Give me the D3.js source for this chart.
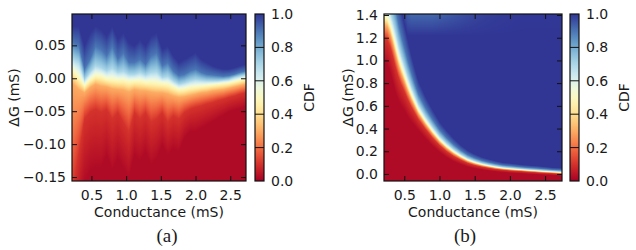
<!DOCTYPE html>
<meta charset="utf-8">
<html>
<head>
<script src="https://d3js.org/d3.v7.min.js"></script>
<style>
  body { margin: 0; background: #fff; }
  svg text { font-family: "DejaVu Sans", sans-serif; fill: #1a1a1a; }
  .tag { font-family: "Liberation Serif", "Times New Roman", serif; }
</style>
</head>
<body>
<div id="myKeeper"></div>
<script>

// CDF values that each contour array below belongs to
const cdfLevelsA = [0.02, 0.1, 0.3, 0.5, 0.7, 0.9, 1.0];
// (b) also has a faint lighter band along the top edge
const cdfLevelsB = [0.02, 0.1, 0.3, 0.5, 0.7, 0.9, 1.0, 1.0, 0.9];

// panel (a): conductance columns (mS), and dG (mS) where the CDF reaches each level
const condA = [0.24,0.32,0.40,0.48,0.56,0.64,0.72,0.80,0.88,0.96,1.04,1.12,1.20,1.28,1.36,1.44,
               1.52,1.60,1.68,1.76,1.84,1.92,2.00,2.08,2.16,2.24,2.32,2.40,2.48,2.56,2.64,2.72];
const aLevel02  = [-0.254,-0.204,-0.163,-0.143,-0.138,-0.138,-0.118,-0.143,-0.123,-0.138,-0.153,-0.118,-0.128,-0.113,-0.133,-0.123,
                   -0.103,-0.118,-0.108,-0.113,-0.092,-0.082,-0.082,-0.077,-0.072,-0.067,-0.062,-0.057,-0.052,-0.049,-0.047,-0.044];
const aLevel10  = [-0.163,-0.113,-0.062,-0.052,-0.047,-0.052,-0.047,-0.062,-0.052,-0.067,-0.082,-0.052,-0.062,-0.052,-0.067,-0.062,
                   -0.052,-0.067,-0.057,-0.062,-0.052,-0.047,-0.044,-0.042,-0.039,-0.037,-0.034,-0.032,-0.029,-0.027,-0.024,-0.022];
const aLevel30  = [-0.009,-0.017,-0.022,-0.014,-0.009,-0.012,-0.013,-0.016,-0.017,-0.018,-0.021,-0.017,-0.019,-0.019,-0.021,-0.022,
                   -0.022,-0.024,-0.027,-0.029,-0.028,-0.026,-0.024,-0.022,-0.021,-0.019,-0.018,-0.017,-0.015,-0.013,-0.011,-0.009];
const aLevel50  = [0.011,0.001,-0.011,-0.002,0.004,0.003,-0.001,-0.002,-0.003,-0.003,-0.005,-0.004,-0.004,-0.006,-0.006,-0.007,
                   -0.008,-0.009,-0.013,-0.017,-0.016,-0.014,-0.013,-0.012,-0.011,-0.010,-0.009,-0.008,-0.007,-0.005,-0.003,-0.001];
const aLevel70  = [0.029,0.024,-0.002,0.009,0.019,0.016,0.011,0.016,0.009,0.011,0.006,0.006,0.009,0.005,0.009,0.010,
                   0.001,0.003,-0.004,-0.009,-0.007,-0.004,-0.002,-0.003,-0.004,-0.004,-0.004,-0.003,-0.002,0.001,0.003,0.005];
const aLevel90  = [0.054,0.049,0.014,0.029,0.049,0.044,0.034,0.049,0.029,0.039,0.024,0.024,0.029,0.021,0.034,0.039,
                   0.019,0.024,0.011,0.004,0.006,0.011,0.014,0.009,0.006,0.005,0.004,0.003,0.004,0.006,0.009,0.011];
const aLevel100 = [0.079,0.079,0.049,0.069,0.079,0.074,0.064,0.079,0.059,0.069,0.054,0.049,0.059,0.049,0.064,0.069,
                   0.044,0.049,0.034,0.024,0.029,0.034,0.039,0.029,0.024,0.019,0.016,0.014,0.014,0.016,0.019,0.021];

// panel (b)
const condB = [0.22,0.26,0.30,0.34,0.38,0.42,0.46,0.50,0.55,0.60,0.65,0.70,0.80,0.90,1.00,
               1.10,1.20,1.30,1.40,1.50,1.60,1.70,1.80,1.90,2.00,2.20,2.40,2.60,2.74];
const bLevel02  = [0.97,0.95,0.89,0.80,0.70,0.635,0.59,0.555,0.50,0.455,0.42,0.38,0.31,0.245,0.19,
                   0.145,0.11,0.085,0.062,0.048,0.038,0.028,0.020,0.015,0.009,0.002,-0.006,-0.011,-0.016];
const bLevel10  = [1.198,1.178,1.118,1.028,0.928,0.844,0.78,0.726,0.652,0.588,0.534,0.479,0.394,0.317,0.251,
                   0.198,0.156,0.123,0.095,0.076,0.062,0.051,0.041,0.034,0.028,0.020,0.011,0.004,-0.001];
const bLevel30  = [1.318,1.298,1.238,1.148,1.048,0.954,0.88,0.816,0.732,0.658,0.594,0.531,0.438,0.355,0.283,
                   0.226,0.180,0.143,0.112,0.091,0.075,0.063,0.052,0.044,0.038,0.029,0.020,0.012,0.007];
const bLevel50  = [1.39,1.37,1.31,1.22,1.12,1.02,0.94,0.87,0.78,0.70,0.63,0.562,0.464,0.378,0.302,
                   0.243,0.194,0.155,0.122,0.100,0.083,0.070,0.059,0.050,0.044,0.034,0.025,0.017,0.012];
const bLevel70  = [1.51,1.49,1.43,1.34,1.24,1.13,1.04,0.96,0.86,0.77,0.69,0.614,0.508,0.416,0.334,
                   0.271,0.218,0.175,0.139,0.115,0.096,0.082,0.070,0.060,0.054,0.043,0.034,0.025,0.020];
const bLevel90  = [1.72,1.70,1.64,1.55,1.45,1.32,1.215,1.118,1.00,0.893,0.795,0.705,0.585,0.483,0.39,
                   0.32,0.26,0.21,0.169,0.141,0.119,0.103,0.089,0.078,0.072,0.059,0.050,0.039,0.034];
const bLevel100 = [1.99,1.97,1.91,1.82,1.72,1.57,1.44,1.32,1.18,1.05,0.93,0.822,0.684,0.568,0.462,
                   0.383,0.314,0.255,0.207,0.175,0.148,0.130,0.114,0.100,0.094,0.079,0.070,0.057,0.052];
const bFadeFrom = [2.00,1.98,1.92,1.83,1.73,1.58,1.45,1.33,1.22,1.22,1.22,1.22,1.22,1.22,1.22,
                   1.22,1.22,1.22,1.22,1.22,1.22,1.22,1.22,1.22,1.22,1.22,1.22,1.22,1.22];
const bFadeTo   = [2.30,2.30,2.20,2.10,2.00,1.85,1.72,1.60,1.50,1.45,1.45,1.45,1.45,1.45,1.48,
                   1.52,1.58,1.66,1.78,1.95,2.20,2.60,3.20,4.00,5.00,9.00,9.00,9.00,9.00];

// tick labels
const condTicks = [0.5, 1.0, 1.5, 2.0, 2.5];
const dgTicksA  = [0.05, 0.00, -0.05, -0.10, -0.15];
const dgTicksB  = [0.0, 0.2, 0.4, 0.6, 0.8, 1.0, 1.2, 1.4];
const cdfTicks  = [0.0, 0.2, 0.4, 0.6, 0.8, 1.0];

const W = 636, H = 250;
const svg = d3.select("#myKeeper").append("svg")
    .attr("width", W).attr("height", H);

// vertical colour gradient for the colorbars
const grad = svg.append("defs").append("linearGradient")
    .attr("id", "cdfGrad").attr("x1", 0).attr("y1", 1).attr("x2", 0).attr("y2", 0);
grad.selectAll("stop").data(d3.range(0, 1.0001, 0.05)).join("stop")
    .attr("offset", d => d)
    .attr("stop-color", d => d3.interpolateRdYlBu(d));

const panels = [
  {left: 72, top: 14, w: 174, h: 167, xDom: [0.22, 2.727], yDom: [-0.156, 0.0976],
   yTicks: dgTicksA, yFmt: ".2f", cond: condA, cdfLevels: cdfLevelsA,
   levels: [aLevel02, aLevel10, aLevel30, aLevel50, aLevel70, aLevel90, aLevel100],
   cbX: 255, cbLabelX: 271, cdfX: 309, ylabX: 14, tag: "(a)", tagX: 167},
  {left: 384, top: 14, w: 178, h: 167, xDom: [0.212, 2.74], yDom: [-0.062, 1.409],
   yTicks: dgTicksB, yFmt: ".1f", cond: condB, cdfLevels: cdfLevelsB,
   levels: [bLevel02, bLevel10, bLevel30, bLevel50, bLevel70, bLevel90, bLevel100, bFadeFrom, bFadeTo],
   cbX: 570, cbLabelX: 586, cdfX: 624, ylabX: 348, tag: "(b)", tagX: 465}
];

panels.forEach(p => drawPanel(p));

function drawPanel(p) {
  const x = d3.scaleLinear().domain(p.xDom).range([0, p.w]);
  const y = d3.scaleLinear().domain(p.yDom).range([p.h, 0]);
  const g = svg.append("g").attr("transform", `translate(${p.left},${p.top})`);
  const lv = p.cdfLevels;

  // heat map: for each pixel column get the level edges, then the CDF of each row
  const cv = document.createElement("canvas");
  cv.width = p.w; cv.height = p.h;
  const ctx = cv.getContext("2d");
  const img = ctx.createImageData(p.w, p.h);
  const n = p.cond.length;
  for (let px = 0; px < p.w; px++) {
    const c = x.invert(px + 0.5);
    let i = Math.max(0, Math.min(n - 2, d3.bisectRight(p.cond, c) - 1));
    let t = (c - p.cond[i]) / (p.cond[i + 1] - p.cond[i]);
    t = Math.max(0, Math.min(1, t));
    const edges = p.levels.map(arr => arr[i] + (arr[i + 1] - arr[i]) * t);
    for (let py = 0; py < p.h; py++) {
      const dg = y.invert(py + 0.5);
      let v = lv[lv.length - 1];
      if (dg <= edges[0]) v = lv[0];
      else {
        for (let k = 1; k < edges.length; k++) {
          if (dg < edges[k]) {
            const u = (dg - edges[k - 1]) / (edges[k] - edges[k - 1]);
            v = lv[k - 1] + u * (lv[k] - lv[k - 1]);
            break;
          }
        }
      }
      const col = d3.rgb(d3.interpolateRdYlBu(v));
      const o = (py * p.w + px) * 4;
      img.data[o] = col.r; img.data[o + 1] = col.g; img.data[o + 2] = col.b; img.data[o + 3] = 255;
    }
  }
  ctx.putImageData(img, 0, 0);
  g.append("image").attr("href", cv.toDataURL())
    .attr("width", p.w).attr("height", p.h);

  // axes with inward ticks on all four sides
  const fs = "14px";
  g.append("g").attr("transform", `translate(0,${p.h})`)
    .call(d3.axisBottom(x).tickValues(condTicks).tickSize(-5).tickPadding(9).tickFormat(d3.format(".1f")));
  g.append("g")
    .call(d3.axisLeft(y).tickValues(p.yTicks).tickSize(-5).tickPadding(6).tickFormat(d3.format(p.yFmt)));
  g.append("g").call(d3.axisTop(x).tickValues(condTicks).tickSize(-5).tickFormat(""));
  g.append("g").attr("transform", `translate(${p.w},0)`)
    .call(d3.axisRight(y).tickValues(p.yTicks).tickSize(-5).tickFormat(""));
  g.selectAll(".domain").remove();
  g.selectAll(".tick line").attr("stroke", "#111").attr("stroke-width", 1);
  g.selectAll(".tick text").attr("font-size", fs).attr("fill", "#1a1a1a")
    .attr("font-family", "DejaVu Sans, sans-serif");
  g.append("rect").attr("width", p.w).attr("height", p.h)
    .attr("fill", "none").attr("stroke", "#111").attr("stroke-width", 1.2);

  // axis titles
  g.append("text").attr("x", p.w / 2).attr("y", 203)
    .attr("text-anchor", "middle").attr("font-size", fs).text("Conductance (mS)");
  svg.append("text")
    .attr("transform", `translate(${p.ylabX},${p.top + p.h / 2}) rotate(-90)`)
    .attr("text-anchor", "middle").attr("dominant-baseline", "central")
    .attr("font-size", fs).text("\u0394G (mS)");

  // colorbar
  const cb = d3.scaleLinear().domain([0, 1]).range([p.top + p.h, p.top]);
  const cbW = 9;
  svg.append("rect").attr("x", p.cbX).attr("y", p.top).attr("width", cbW).attr("height", p.h)
    .attr("fill", "url(#cdfGrad)");
  svg.append("g").selectAll("line").data(cdfTicks.slice(1, -1)).join("line")
    .attr("x1", p.cbX).attr("x2", p.cbX + cbW)
    .attr("y1", d => cb(d)).attr("y2", d => cb(d))
    .attr("stroke", "#111").attr("stroke-width", 1);
  svg.append("rect").attr("x", p.cbX).attr("y", p.top).attr("width", cbW).attr("height", p.h)
    .attr("fill", "none").attr("stroke", "#111").attr("stroke-width", 1.2);
  const cbAxis = svg.append("g").attr("transform", `translate(${p.cbX + cbW},0)`)
    .call(d3.axisRight(cb).tickValues(cdfTicks).tickSize(0)
      .tickPadding(p.cbLabelX - p.cbX - cbW).tickFormat(d3.format(".1f")));
  cbAxis.select(".domain").remove();
  cbAxis.selectAll("text").attr("font-size", fs).attr("fill", "#1a1a1a")
    .attr("font-family", "DejaVu Sans, sans-serif");
  svg.append("text")
    .attr("transform", `translate(${p.cdfX},${p.top + p.h / 2}) rotate(-90)`)
    .attr("text-anchor", "middle").attr("dominant-baseline", "central")
    .attr("font-size", fs).text("CDF");

  // panel tag
  svg.append("text").attr("class", "tag").attr("x", p.tagX).attr("y", 242)
    .attr("text-anchor", "middle").attr("font-size", "19px").text(p.tag);
}

</script>
</body>
</html>
